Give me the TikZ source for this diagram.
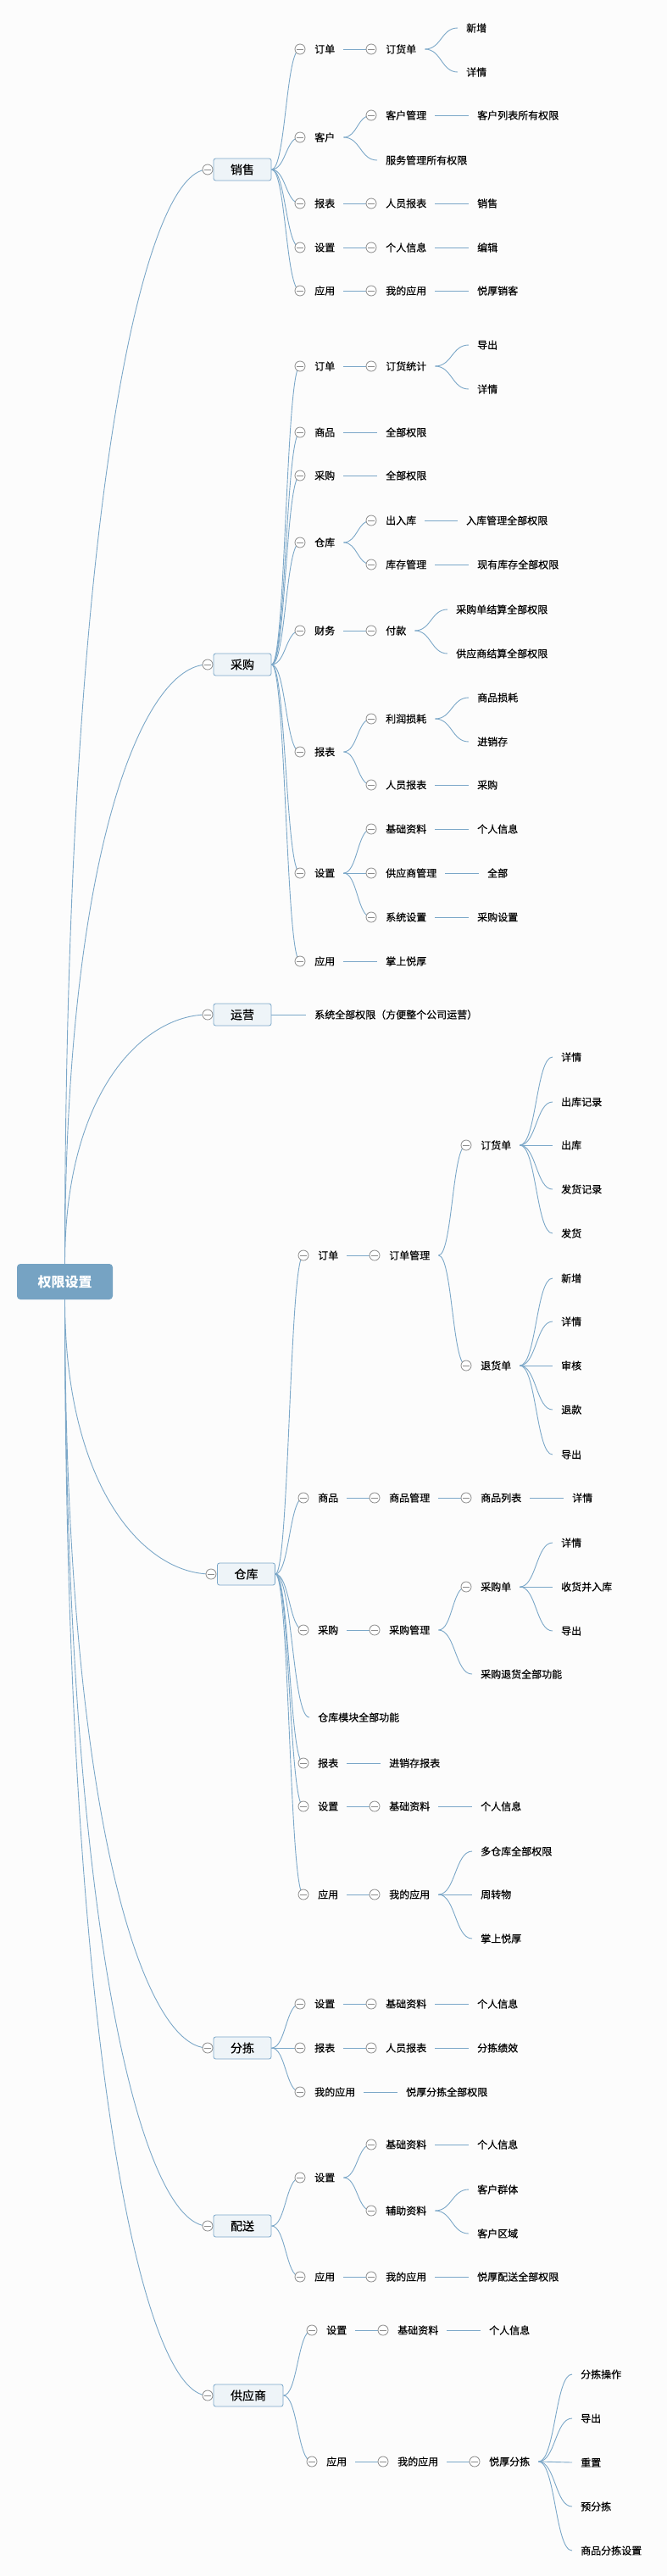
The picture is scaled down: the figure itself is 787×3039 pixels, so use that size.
\documentclass[tikz,border=0pt]{standalone}
\usepackage{fontspec}
\setmainfont{Noto Sans CJK SC}
\newfontfamily\lblfont[FakeBold=0.4]{Noto Sans CJK SC}
\usetikzlibrary{calc}
\pgfdeclarelayer{back}
\pgfdeclarelayer{bg}
\pgfsetlayers{back,bg,main}
\definecolor{lineC}{HTML}{7BA7C8}
\definecolor{boxF}{HTML}{EEF4F8}
\definecolor{boxD}{HTML}{7BA7C8}
\definecolor{rootF}{HTML}{76A3C3}
\definecolor{circD}{HTML}{8C8C8C}
\definecolor{bgC}{HTML}{FCFCFC}
\tikzset{
  conn/.style={draw=lineC, line width=0.9pt},
  lbl/.style={anchor=west, inner xsep=10pt, inner ysep=3pt, font=\lblfont\fontsize{12}{14}\selectfont, text=black},
  circ/.style={circle, draw=circD, fill=white, line width=0.8pt, minimum size=12pt, inner sep=0pt,
    path picture={\draw[circD, line width=0.8pt] ([xshift=-3.8pt]path picture bounding box.center) -- ([xshift=3.8pt]path picture bounding box.center);}},
  mbox/.style={draw=boxD, fill=boxF, line width=0.8pt, rounded corners=2.5pt, minimum width=68pt, minimum height=26pt, inner sep=2pt, font=\lblfont\fontsize{14}{16}\selectfont},
  rootbox/.style={fill=rootF, rounded corners=4pt, minimum width=113pt, minimum height=42pt, text=white, font=\fontsize{16}{18}\selectfont\bfseries}
}
\newcommand\cn[4]{\node[circ] (#1c) at (#2,#3) {}; \node[lbl] (#1) at ({#2+7},#3) {#4};}
\newcommand\lf[4]{\node[lbl] (#1) at ({#2-10},#3) {#4};}
\newcommand\link[2]{\begin{pgfonlayer}{bg}\draw[conn] let \p1=(#1), \p2=(#2) in (\p1) .. controls ({(\x1+\x2)/2},\y1) and ({(\x1+\x2)/2},\y2) .. (\p2);\end{pgfonlayer}}
\newcommand\rlink[2]{\begin{pgfonlayer}{bg}\draw[conn] let \p1=(#1), \p2=(#2) in (\p1) .. controls (\x1,{\y1+0.69*(\y2-\y1)}) and ({\x1+0.55*(\x2-\x1)},\y2) .. (\p2);\end{pgfonlayer}}
\begin{document}
\begin{tikzpicture}[x=1pt,y=-1pt]
\begin{pgfonlayer}{back}
\fill[bgC] (0,0) rectangle (787,3039);
\end{pgfonlayer}
\useasboundingbox (0,0) rectangle (787,3039);
% root
\node[rootbox] (R) at (76.5,1512) {权限设置};
% level 1
\node[mbox] (A) at (286,200) {销售}; \node[circ] (Ac) at (245,200) {};
\node[mbox] (B) at (286,784) {采购}; \node[circ] (Bc) at (245,784) {};
\node[mbox] (C) at (286,1197) {运营}; \node[circ] (Cc) at (245,1197) {};
\node[mbox] (D) at (290.5,1857) {仓库}; \node[circ] (Dc) at (249,1857) {};
\node[mbox] (E) at (286,2416) {分拣}; \node[circ] (Ec) at (245,2416) {};
\node[mbox] (F) at (286,2626) {配送}; \node[circ] (Fc) at (245,2626) {};
\node[mbox, minimum width=82pt] (G) at (293,2826) {供应商}; \node[circ] (Gc) at (245,2826) {};
\rlink{R.north}{Ac.center}
\rlink{R.north}{Bc.center}
\rlink{R.north}{Cc.center}
\rlink{R.south}{Dc.center}
\rlink{R.south}{Ec.center}
\rlink{R.south}{Fc.center}
\rlink{R.south}{Gc.center}
% 销售
\cn{a1}{354}{58}{订单}
\cn{a11}{438}{58}{订货单}
\lf{a111}{550}{33}{新增}
\lf{a112}{550}{85}{详情}
\cn{a2}{354}{162}{客户}
\cn{a21}{438}{136}{客户管理}
\lf{a211}{563}{136}{客户列表所有权限}
\lf{a22}{455}{189}{服务管理所有权限}
\cn{a3}{354}{240}{报表}
\cn{a31}{438}{240}{人员报表}
\lf{a311}{563}{240}{销售}
\cn{a4}{354}{292}{设置}
\cn{a41}{438}{292}{个人信息}
\lf{a411}{563}{292}{编辑}
\cn{a5}{354}{343}{应用}
\cn{a51}{438}{343}{我的应用}
\lf{a511}{563}{343}{悦厚销客}
\foreach \k in {a1,a2,a3,a4,a5} {\link{A.east}{\k c.center}}
\link{a1.east}{a11c.center}\link{a11.east}{a111.west}\link{a11.east}{a112.west}
\link{a2.east}{a21c.center}\link{a2.east}{a22.west}\link{a21.east}{a211.west}
\link{a3.east}{a31c.center}\link{a31.east}{a311.west}
\link{a4.east}{a41c.center}\link{a41.east}{a411.west}
\link{a5.east}{a51c.center}\link{a51.east}{a511.west}
% 采购
\cn{b1}{354}{432}{订单}
\cn{b11}{438}{432}{订货统计}
\lf{b111}{563}{407}{导出}
\lf{b112}{563}{459}{详情}
\cn{b2}{354}{510}{商品}
\lf{b21}{455}{510}{全部权限}
\cn{b3}{354}{561}{采购}
\lf{b31}{455}{561}{全部权限}
\cn{b4}{354}{640}{仓库}
\cn{b41}{438}{614}{出入库}
\lf{b411}{550}{614}{入库管理全部权限}
\cn{b42}{438}{666}{库存管理}
\lf{b421}{563}{666}{现有库存全部权限}
\cn{b5}{354}{744}{财务}
\cn{b51}{438}{744}{付款}
\lf{b511}{538}{719}{采购单结算全部权限}
\lf{b512}{538}{771}{供应商结算全部权限}
\cn{b6}{354}{887}{报表}
\cn{b61}{438}{848}{利润损耗}
\lf{b611}{563}{823}{商品损耗}
\lf{b612}{563}{875}{进销存}
\cn{b62}{438}{926}{人员报表}
\lf{b621}{563}{926}{采购}
\cn{b7}{354}{1030}{设置}
\cn{b71}{438}{978}{基础资料}
\lf{b711}{563}{978}{个人信息}
\cn{b72}{438}{1030}{供应商管理}
\lf{b721}{575}{1030}{全部}
\cn{b73}{438}{1082}{系统设置}
\lf{b731}{563}{1082}{采购设置}
\cn{b8}{354}{1134}{应用}
\lf{b81}{455}{1134}{掌上悦厚}
\foreach \k in {b1,b2,b3,b4,b5,b6,b7,b8} {\link{B.east}{\k c.center}}
\link{b1.east}{b11c.center}\link{b11.east}{b111.west}\link{b11.east}{b112.west}
\link{b2.east}{b21.west}\link{b3.east}{b31.west}
\link{b4.east}{b41c.center}\link{b4.east}{b42c.center}\link{b41.east}{b411.west}\link{b42.east}{b421.west}
\link{b5.east}{b51c.center}\link{b51.east}{b511.west}\link{b51.east}{b512.west}
\link{b6.east}{b61c.center}\link{b6.east}{b62c.center}\link{b61.east}{b611.west}\link{b61.east}{b612.west}\link{b62.east}{b621.west}
\link{b7.east}{b71c.center}\link{b7.east}{b72c.center}\link{b7.east}{b73c.center}
\link{b71.east}{b711.west}\link{b72.east}{b721.west}\link{b73.east}{b731.west}
\link{b8.east}{b81.west}
% 运营
\lf{c1}{371}{1197}{系统全部权限（方便整个公司运营）}
\link{C.east}{c1.west}
% 仓库
\cn{d1}{358}{1481}{订单}
\cn{d11}{442}{1481}{订单管理}
\cn{d111}{550}{1351}{订货单}
\lf{d1111}{662}{1247}{详情}
\lf{d1112}{662}{1300}{出库记录}
\lf{d1113}{662}{1351}{出库}
\lf{d1114}{662}{1403}{发货记录}
\lf{d1115}{662}{1455}{发货}
\cn{d112}{550}{1611}{退货单}
\lf{d1121}{662}{1508}{新增}
\lf{d1122}{662}{1559}{详情}
\lf{d1123}{662}{1611}{审核}
\lf{d1124}{662}{1663}{退款}
\lf{d1125}{662}{1716}{导出}
\cn{d2}{358}{1767}{商品}
\cn{d21}{442}{1767}{商品管理}
\cn{d211}{550}{1767}{商品列表}
\lf{d2111}{675}{1767}{详情}
\cn{d3}{358}{1923}{采购}
\cn{d31}{442}{1923}{采购管理}
\cn{d311}{550}{1872}{采购单}
\lf{d3111}{662}{1820}{详情}
\lf{d3112}{662}{1872}{收货并入库}
\lf{d3113}{662}{1924}{导出}
\lf{d312}{567}{1975}{采购退货全部功能}
\lf{d4}{375}{2026}{仓库模块全部功能}
\cn{d5}{358}{2080}{报表}
\lf{d51}{459}{2080}{进销存报表}
\cn{d6}{358}{2131}{设置}
\cn{d61}{442}{2131}{基础资料}
\lf{d611}{567}{2131}{个人信息}
\cn{d7}{358}{2235}{应用}
\cn{d71}{442}{2235}{我的应用}
\lf{d711}{567}{2184}{多仓库全部权限}
\lf{d712}{567}{2235}{周转物}
\lf{d713}{567}{2287}{掌上悦厚}
\foreach \k in {d1,d2,d3,d5,d6,d7} {\link{D.east}{\k c.center}}
\link{D.east}{d4.west}
\link{d1.east}{d11c.center}\link{d11.east}{d111c.center}\link{d11.east}{d112c.center}
\foreach \k in {d1111,d1112,d1113,d1114,d1115} {\link{d111.east}{\k.west}}
\foreach \k in {d1121,d1122,d1123,d1124,d1125} {\link{d112.east}{\k.west}}
\link{d2.east}{d21c.center}\link{d21.east}{d211c.center}\link{d211.east}{d2111.west}
\link{d3.east}{d31c.center}\link{d31.east}{d311c.center}\link{d31.east}{d312.west}
\foreach \k in {d3111,d3112,d3113} {\link{d311.east}{\k.west}}
\link{d5.east}{d51.west}
\link{d6.east}{d61c.center}\link{d61.east}{d611.west}
\link{d7.east}{d71c.center}
\foreach \k in {d711,d712,d713} {\link{d71.east}{\k.west}}
% 分拣
\cn{e1}{354}{2364}{设置}
\cn{e11}{438}{2364}{基础资料}
\lf{e111}{563}{2364}{个人信息}
\cn{e2}{354}{2416}{报表}
\cn{e21}{438}{2416}{人员报表}
\lf{e211}{563}{2416}{分拣绩效}
\cn{e3}{354}{2468}{我的应用}
\lf{e31}{479}{2468}{悦厚分拣全部权限}
\link{E.east}{e1c.center}\link{E.east}{e2c.center}\link{E.east}{e3c.center}
\link{e1.east}{e11c.center}\link{e11.east}{e111.west}
\link{e2.east}{e21c.center}\link{e21.east}{e211.west}
\link{e3.east}{e31.west}
% 配送
\cn{f1}{354}{2569}{设置}
\cn{f11}{438}{2530}{基础资料}
\lf{f111}{563}{2530}{个人信息}
\cn{f12}{438}{2608}{辅助资料}
\lf{f121}{563}{2583}{客户群体}
\lf{f122}{563}{2635}{客户区域}
\cn{f2}{354}{2686}{应用}
\cn{f21}{438}{2686}{我的应用}
\lf{f211}{563}{2686}{悦厚配送全部权限}
\link{F.east}{f1c.center}\link{F.east}{f2c.center}
\link{f1.east}{f11c.center}\link{f1.east}{f12c.center}
\link{f11.east}{f111.west}\link{f12.east}{f121.west}\link{f12.east}{f122.west}
\link{f2.east}{f21c.center}\link{f21.east}{f211.west}
% 供应商
\cn{g1}{368}{2749}{设置}
\cn{g11}{452}{2749}{基础资料}
\lf{g111}{577}{2749}{个人信息}
\cn{g2}{368}{2904}{应用}
\cn{g21}{452}{2904}{我的应用}
\cn{g211}{560}{2904}{悦厚分拣}
\lf{g2111}{685}{2801}{分拣操作}
\lf{g2112}{685}{2853}{导出}
\lf{g2113}{685}{2905}{重置}
\lf{g2114}{685}{2957}{预分拣}
\lf{g2115}{685}{3009}{商品分拣设置}
\link{G.east}{g1c.center}\link{G.east}{g2c.center}
\link{g1.east}{g11c.center}\link{g11.east}{g111.west}
\link{g2.east}{g21c.center}\link{g21.east}{g211c.center}
\foreach \k in {g2111,g2112,g2113,g2114,g2115} {\link{g211.east}{\k.west}}
\end{tikzpicture}
\end{document}
